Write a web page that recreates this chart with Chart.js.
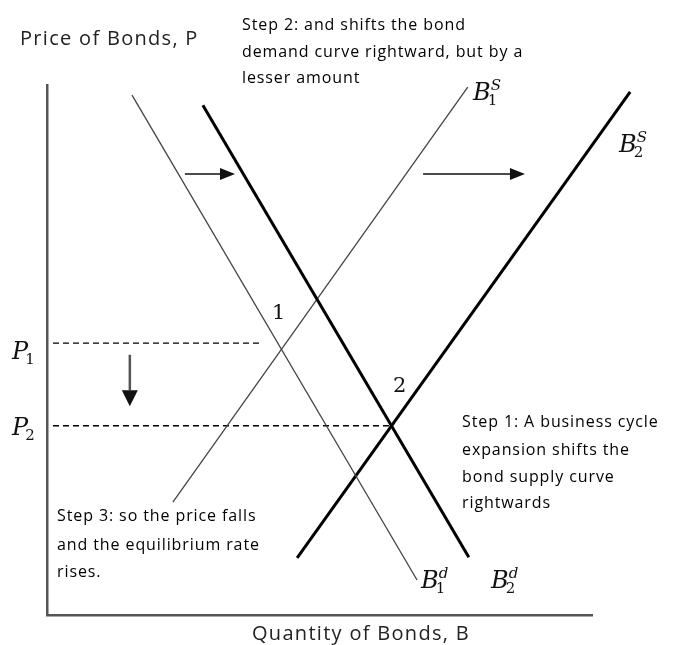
<!DOCTYPE html>
<html>
<head>
<meta charset="utf-8">
<script src="https://cdn.jsdelivr.net/npm/chart.js@4"></script>
<style>
  html, body { margin: 0; padding: 0; background: #fff; }
  canvas { display: block; }
</style>
</head>
<body>
<canvas id="bondChart" width="674" height="645"></canvas>
<script>
/* ---------- data (quantity 0-100 across, price 0-100 up) ---------- */
const qtyD1    = [15.6, 67.9];   // B1d, old demand
const priceD1  = [98.1, 6.6];
const qtyD2    = [28.6, 77.4];   // B2d, new demand
const priceD2  = [96.2, 10.9];
const qtyS1    = [23.1, 77.2];   // B1s, old supply
const priceS1  = [21.3, 99.6];
const qtyS2    = [45.9, 107.0];  // B2s, new supply
const priceS2  = [10.8, 98.7];

const priceLevels = [51.3, 35.7];    // P1, P2 dashed guides
const levelEnds   = [39.1, 62.9];
const levelStart  = 1.1;

const arrowFrom = [[25.3, 83.2], [69.0, 83.2], [15.2, 49.1]];
const arrowTo   = [[34.5, 83.2], [87.7, 83.2], [15.2, 39.4]];

/* ---------- helpers ---------- */
const $   = id => document.getElementById(id);
const pts = (xs, ys) => xs.map((x, i) => ({ x, y: ys[i] }));

const curve = (data, width, color) => ({
  data, showLine: true, pointRadius: 0, borderWidth: width,
  borderColor: color, clip: false, tension: 0
});

const dashed = priceLevels.map((p, i) => ({
  ...curve(pts([levelStart, levelEnds[i]], [p, p]), 1.4, "#000"),
  borderDash: [6, 4]
}));

/* ---------- text + arrows drawn on top ---------- */
function textLines (ctx, lines, x, ys, font, spacing) {
  ctx.font = font;
  ctx.letterSpacing = spacing || "0px";
  lines.forEach((t, i) => ctx.fillText(t, x, ys[i]));
  ctx.letterSpacing = "0px";
}

// italic B with a superscript letter and subscript digit
function bLabel (ctx, sup, sub, x, base) {
  ctx.textBaseline = "alphabetic";
  ctx.font = "italic 24px 'DejaVu Serif', serif";
  ctx.fillText("B", x, base);
  const w = ctx.measureText("B").width;
  ctx.font = "italic 15px 'DejaVu Serif', serif";
  ctx.fillText(sup, x + w, base - 10);
  ctx.font = "15px 'DejaVu Serif', serif";
  ctx.fillText(sub, x + w - 3, base + 5);
}

function pLabel (ctx, sub, x, mid) {
  ctx.textBaseline = "alphabetic";
  ctx.font = "italic 24px 'DejaVu Serif', serif";
  ctx.fillText("P", x, mid + 9);
  const w = ctx.measureText("P").width;
  ctx.font = "15px 'DejaVu Serif', serif";
  ctx.fillText(sub, x + w - 3, mid + 14);
}

const overlay = {
  id: "overlay",
  afterDraw (chart) {
    const { ctx, scales: { x, y } } = chart;
    ctx.save();
    ctx.fillStyle = "#111";

    /* arrows */
    arrowFrom.forEach((f, i) => {
      const x0 = x.getPixelForValue(f[0]), y0 = y.getPixelForValue(f[1]);
      const x1 = x.getPixelForValue(arrowTo[i][0]), y1 = y.getPixelForValue(arrowTo[i][1]);
      const down = i === 2;
      const ang = Math.atan2(y1 - y0, x1 - x0);
      const len = down ? 16 : 15, hw = down ? 8 : 6;
      ctx.strokeStyle = down ? "#555" : "#111";
      ctx.lineWidth = down ? 2.5 : 1.6;
      ctx.beginPath();
      ctx.moveTo(x0, y0);
      ctx.lineTo(x1 - Math.cos(ang) * len, y1 - Math.sin(ang) * len);
      ctx.stroke();
      ctx.beginPath();
      ctx.moveTo(x1, y1);
      ctx.lineTo(x1 - Math.cos(ang) * len - Math.sin(ang) * hw, y1 - Math.sin(ang) * len + Math.cos(ang) * hw);
      ctx.lineTo(x1 - Math.cos(ang) * len + Math.sin(ang) * hw, y1 - Math.sin(ang) * len - Math.cos(ang) * hw);
      ctx.closePath();
      ctx.fill();
    });

    /* axis titles */
    ctx.textBaseline = "middle";
    ctx.fillStyle = "#222";
    textLines(ctx, ["Price of Bonds, P"], 20, [39], "20px 'Open Sans', sans-serif", "1.3px");
    textLines(ctx, ["Quantity of Bonds, B"], 252, [634], "20px 'Open Sans', sans-serif", "1.3px");

    /* step notes */
    ctx.fillStyle = "#000";
    const noteFont = "500 16px 'Open Sans', sans-serif";
    textLines(ctx, ["Step 2: and shifts the bond", "demand curve rightward, but by a", "lesser amount"],
              242, [25, 52, 78], noteFont, "0.9px");
    textLines(ctx, ["Step 1: A business cycle", "expansion shifts the", "bond supply curve", "rightwards"],
              462, [422, 450, 477, 503], noteFont, "0.9px");
    textLines(ctx, ["Step 3: so the price falls", "and the equilibrium rate", "rises."],
              57, [516, 545, 572], noteFont, "0.9px");

    /* equilibrium numbers */
    ctx.fillStyle = "#111";
    textLines(ctx, ["1"], 272, [314], "21px 'DejaVu Serif', serif");
    textLines(ctx, ["2"], 393, [387], "21px 'DejaVu Serif', serif");

    /* curve + price labels */
    bLabel(ctx, "S", "1", 473, 100);
    bLabel(ctx, "S", "2", 619, 152);
    bLabel(ctx, "d", "1", 421, 588);
    bLabel(ctx, "d", "2", 491, 588);
    pLabel(ctx, "1", 12, 350);
    pLabel(ctx, "2", 12, 426);

    ctx.restore();
  }
};

/* ---------- chart ---------- */
const axis = {
  min: 0, max: 100,
  grid: { display: false, drawTicks: false },
  ticks: { display: false },
  border: { display: true, color: "#555", width: 2.5 }
};

new Chart($("bondChart"), {
  type: "scatter",
  data: {
    datasets: [
      curve(pts(qtyD1, priceD1), 1.3, "#444"),
      curve(pts(qtyD2, priceD2), 3, "#000"),
      curve(pts(qtyS1, priceS1), 1.3, "#444"),
      curve(pts(qtyS2, priceS2), 3, "#000"),
      ...dashed
    ]
  },
  options: {
    responsive: false, animation: false,
    layout: { padding: { left: 47, right: 82, top: 85, bottom: 30 } },
    plugins: { legend: { display: false }, tooltip: { enabled: false } },
    scales: { x: axis, y: axis }
  },
  plugins: [overlay]
});
</script>
</body>
</html>
